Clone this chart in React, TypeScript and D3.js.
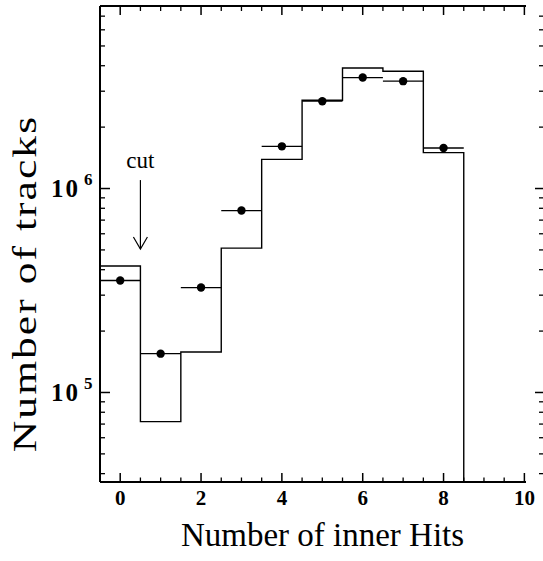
import React from "react";
import * as d3 from "d3";

const bins = [0, 1, 2, 3, 4, 5, 6, 7, 8];
const histValues = [4.17e5, 7.2e4, 1.58e5, 5.1e5, 1.39e6, 2.71e6, 3.9e6, 3.76e6, 1.5e6];
const dataValues = [3.54e5, 1.55e5, 3.27e5, 7.8e5, 1.61e6, 2.68e6, 3.5e6, 3.36e6, 1.58e6];
const xTickLabels = [0, 2, 4, 6, 8, 10];
const yDecades = [5, 6];
const cutX = 0.5;
const cutFrom = 1.1e6;
const cutTo = 5.05e5;

const W = 543, H = 561;
const left = 100, right = 526, top = 6, bottom = 482;

export default function App() {
  const x = d3.scaleLinear().domain([-0.5, 10.04]).range([left, right]);
  const y = d3.scaleLog().domain([3.64e4, 7.85e6]).range([bottom, top]);

  const xMinor = d3.range(-0.5, 10.01, 0.5).filter((v) => v > -0.5 && !xTickLabels.includes(v));
  const yMinor: number[] = [];
  for (let e = 4; e <= 6; e++) for (let m = 1; m <= 9; m++) {
    const v = m * Math.pow(10, e);
    if (v >= 3.64e4 && v <= 7.85e6 && m !== 1) yMinor.push(v);
  }

  const steps: [number, number][] = [];
  bins.forEach((b, i) => {
    steps.push([x(b - 0.5), y(histValues[i])]);
    steps.push([x(b + 0.5), y(histValues[i])]);
  });
  const lastX = x(bins[bins.length - 1] + 0.5);
  steps.push([lastX, bottom]);
  const histPath = d3.line()(steps) as string;

  const ax = x(cutX), ay1 = y(cutFrom), ay2 = y(cutTo);

  return (
    <svg width={W} height={H} style={{ position: "absolute", left: 0, top: 0, background: "#fff" }}
      fontFamily="'Liberation Serif', 'Times New Roman', serif">
      <rect x={0} y={0} width={W} height={H} fill="#fff" />
      {/* histogram */}
      <path d={histPath} fill="none" stroke="#000" strokeWidth={1.4} />
      {/* data points */}
      {bins.map((b, i) => (
        <g key={"d" + b}>
          <line x1={x(b - 0.5)} x2={x(b + 0.5)} y1={y(dataValues[i])} y2={y(dataValues[i])} stroke="#000" strokeWidth={1.3} />
          <circle cx={x(b)} cy={y(dataValues[i])} r={4.2} fill="#000" />
        </g>
      ))}
      {/* frame */}
      <line x1={left} x2={right} y1={top} y2={top} stroke="#000" strokeWidth={2} />
      <line x1={left} x2={right} y1={bottom} y2={bottom} stroke="#000" strokeWidth={2} />
      <line x1={left} x2={left} y1={top} y2={bottom} stroke="#000" strokeWidth={2} />
      {/* x ticks */}
      {xTickLabels.map((v) => (
        <g key={"xt" + v}>
          <line x1={x(v)} x2={x(v)} y1={bottom} y2={bottom - 9} stroke="#000" strokeWidth={1.5} />
          <line x1={x(v)} x2={x(v)} y1={top} y2={top + 9} stroke="#000" strokeWidth={1.5} />
          <text x={x(v)} y={505} textAnchor="middle" fontWeight="bold" fontSize={21}>{v}</text>
        </g>
      ))}
      {xMinor.map((v) => (
        <g key={"xm" + v}>
          <line x1={x(v)} x2={x(v)} y1={bottom} y2={bottom - 4.5} stroke="#000" strokeWidth={1.3} />
          <line x1={x(v)} x2={x(v)} y1={top} y2={top + 5} stroke="#000" strokeWidth={1.3} />
        </g>
      ))}
      {/* y ticks */}
      {yDecades.map((e) => {
        const yy = y(Math.pow(10, e));
        return (
          <g key={"yt" + e}>
            <line x1={left} x2={left + 10} y1={yy} y2={yy} stroke="#000" strokeWidth={1.5} />
            <line x1={544} x2={535} y1={yy} y2={yy} stroke="#000" strokeWidth={1.5} />
            <text x={80} y={yy + 8.5} textAnchor="end" fontWeight="bold" fontSize={25} letterSpacing={2}>10</text>
            <text x={84} y={yy - 3.5} fontWeight="bold" fontSize={17}>{e}</text>
          </g>
        );
      })}
      {yMinor.map((v) => (
        <g key={"ym" + v}>
          <line x1={left} x2={left + 5} y1={y(v)} y2={y(v)} stroke="#000" strokeWidth={1.3} />
          <line x1={544} x2={539} y1={y(v)} y2={y(v)} stroke="#000" strokeWidth={1.3} />
        </g>
      ))}
      {/* cut arrow */}
      <line x1={ax} x2={ax} y1={ay1} y2={ay2} stroke="#000" strokeWidth={1.2} />
      <polyline points={`${ax - 7},${ay2 - 12} ${ax},${ay2} ${ax + 7},${ay2 - 12}`} fill="none" stroke="#000" strokeWidth={1.2} />
      <text x={ax} y={168} textAnchor="middle" fontSize={23}>cut</text>
      {/* axis titles */}
      <text x={322.5} y={546} textAnchor="middle" fontSize={33}>Number of inner Hits</text>
      <text transform={`translate(36,${(117 + 452) / 2}) rotate(-90) scale(1.32,1)`} textAnchor="middle" fontSize={33}
        textLength={254} lengthAdjust="spacing">Number of tracks</text>
    </svg>
  );
}
